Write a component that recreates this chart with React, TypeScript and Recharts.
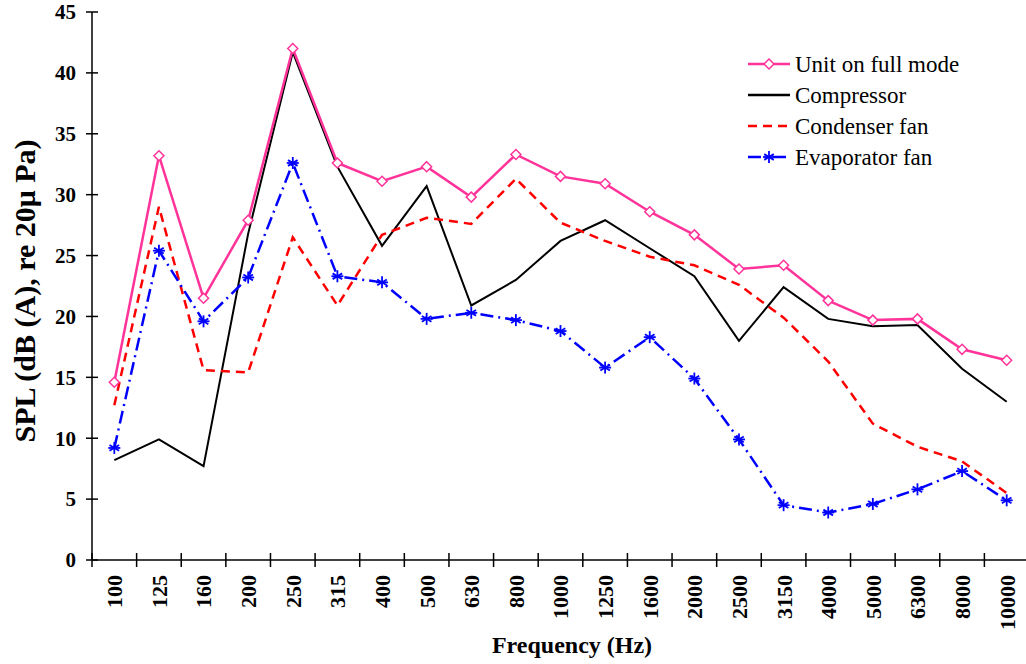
import React from 'react';
import { LineChart, Line, XAxis, YAxis, Legend, Label } from 'recharts';

const FREQUENCIES = ['100', '125', '160', '200', '250', '315', '400', '500', '630', '800', '1000', '1250', '1600', '2000', '2500', '3150', '4000', '5000', '6300', '8000', '10000'];
const UNIT_FULL = [14.6, 33.2, 21.5, 27.9, 42.0, 32.6, 31.1, 32.3, 29.8, 33.3, 31.5, 30.9, 28.6, 26.7, 23.9, 24.2, 21.3, 19.7, 19.8, 17.3, 16.4];
const COMPRESSOR = [8.2, 9.9, 7.7, 26.8, 41.7, 32.3, 25.8, 30.7, 20.9, 23.0, 26.2, 27.9, 25.6, 23.3, 18.0, 22.4, 19.8, 19.2, 19.3, 15.7, 13.0];
const CONDENSER_FAN = [12.7, 29.0, 15.6, 15.4, 26.5, 20.9, 26.7, 28.1, 27.6, 31.3, 27.7, 26.2, 24.9, 24.2, 22.6, 19.9, 16.3, 11.2, 9.3, 8.1, 5.5];
const EVAPORATOR_FAN = [9.2, 25.4, 19.6, 23.2, 32.6, 23.3, 22.8, 19.8, 20.3, 19.7, 18.8, 15.8, 18.3, 14.9, 9.9, 4.5, 3.9, 4.6, 5.8, 7.3, 4.9];
const Y_TICKS = [0, 5, 10, 15, 20, 25, 30, 35, 40, 45];

const data = FREQUENCIES.map((f, i) => ({
  freq: f,
  unit: UNIT_FULL[i],
  comp: COMPRESSOR[i],
  cond: CONDENSER_FAN[i],
  evap: EVAPORATOR_FAN[i],
}));

const FONT = '"Liberation Serif", "Times New Roman", serif';
const PINK = '#FF3399';
const RED = '#FF0000';
const BLUE = '#0000FF';

const W = 1030;
const H = 664;
const LEFT = 92;
const BOTTOM = 104;
const RIGHT = 1;
const BAND = (W - LEFT - RIGHT) / FREQUENCIES.length;

const DASH_RED = '9 6';
const DASH_BLUE = '13 5 2 5';

const Diamond = (props: any) => {
  const { cx, cy } = props;
  if (cx == null || cy == null) return null;
  const r = 5;
  return (
    <path
      d={`M${cx},${cy - r}L${cx + r},${cy}L${cx},${cy + r}L${cx - r},${cy}Z`}
      fill="#fff"
      stroke={PINK}
      strokeWidth={1.5}
    />
  );
};

const Star = (props: any) => {
  const { cx, cy } = props;
  if (cx == null || cy == null) return null;
  const r = 6;
  const d = r * 0.8;
  return (
    <g stroke={BLUE} strokeWidth={1.8}>
      <line x1={cx} y1={cy - r} x2={cx} y2={cy + r} />
      <line x1={cx - d} y1={cy - d * 0.6} x2={cx + d} y2={cy + d * 0.6} />
      <line x1={cx - d} y1={cy + d * 0.6} x2={cx + d} y2={cy - d * 0.6} />
      <line x1={cx - r} y1={cy} x2={cx + r} y2={cy} />
    </g>
  );
};

const XTick = (props: any) => {
  const { x, y, payload } = props;
  const bx = x - BAND / 2;
  return (
    <g>
      <line x1={bx} y1={y - 7} x2={bx} y2={y + 7} stroke="#000" strokeWidth={1.5} />
      <text
        x={x}
        y={y + 15}
        transform={`rotate(-90, ${x}, ${y + 15})`}
        dy="0.36em"
        textAnchor="end"
        fontFamily={FONT}
        fontWeight="bold"
        fontSize={22}
        fill="#000"
      >
        {payload.value}
      </text>
    </g>
  );
};

const YTick = (props: any) => {
  const { x, y, payload } = props;
  return (
    <g>
      <line x1={x - 6} y1={y} x2={x + 6} y2={y} stroke="#000" strokeWidth={1.5} />
      <text
        x={x - 16}
        y={y}
        dy="0.35em"
        textAnchor="end"
        fontFamily={FONT}
        fontWeight="bold"
        fontSize={21}
        fill="#000"
      >
        {payload.value}
      </text>
    </g>
  );
};

const LEGEND_ROWS = [
  { name: 'Unit on full mode', color: PINK, dash: undefined, mark: 'diamond' },
  { name: 'Compressor', color: '#000', dash: undefined, mark: '' },
  { name: 'Condenser fan', color: RED, dash: DASH_RED, mark: '' },
  { name: 'Evaporator fan', color: BLUE, dash: DASH_BLUE, mark: 'star' },
];

const LegendBox = () => (
  <svg width={260} height={140} style={{ display: 'block', overflow: 'visible' }}>
    {LEGEND_ROWS.map((row, i) => {
      const y = 16 + i * 31;
      return (
        <g key={row.name}>
          <line x1={8} y1={y} x2={50} y2={y} stroke={row.color} strokeWidth={2.5} strokeDasharray={row.dash} />
          {row.mark === 'diamond' && <Diamond cx={29} cy={y} />}
          {row.mark === 'star' && <Star cx={29} cy={y} />}
          <text x={55} y={y} dy="0.35em" fontFamily={FONT} fontSize={23} fill="#000">
            {row.name}
          </text>
        </g>
      );
    })}
  </svg>
);

export default function App() {
  return (
    <div style={{ position: 'absolute', left: 0, top: 0, width: 1026, height: 664, overflow: 'hidden', background: '#fff' }}>
      <LineChart width={W} height={H} data={data} margin={{ top: 12, right: RIGHT, left: 0, bottom: 0 }}>
        <XAxis
          dataKey="freq"
          scale="band"
          height={BOTTOM}
          tickSize={0}
          tickMargin={0}
          tickLine={false}
          interval={0}
          tick={<XTick />}
          axisLine={{ stroke: '#000', strokeWidth: 1.5 }}
        >
          <Label
            content={() => (
              <text x={572} y={653} textAnchor="middle" fontFamily={FONT} fontWeight="bold" fontSize={24} fill="#000">
                Frequency (Hz)
              </text>
            )}
          />
        </XAxis>
        <YAxis
          width={LEFT}
          domain={[0, 45]}
          ticks={Y_TICKS}
          tickSize={0}
          tickMargin={0}
          tickLine={false}
          interval={0}
          tick={<YTick />}
          axisLine={{ stroke: '#000', strokeWidth: 1.5 }}
        >
          <Label
            content={() => (
              <text
                x={35}
                y={291}
                transform="rotate(-90, 35, 291)"
                textAnchor="middle"
                fontFamily={FONT}
                fontWeight="bold"
                fontSize={30}
                fill="#000"
              >
                SPL (dB (A), re 20μ Pa)
              </text>
            )}
          />
        </YAxis>
        <Legend
          layout="vertical"
          align="center"
          verticalAlign="middle"
          wrapperStyle={{ left: 740, top: 48, width: 260, height: 140 }}
          content={() => <LegendBox />}
        />
        <Line
          dataKey="comp"
          name="Compressor"
          stroke="#000"
          strokeWidth={2}
          dot={false}
          isAnimationActive={false}
        />
        <Line
          dataKey="cond"
          name="Condenser fan"
          stroke={RED}
          strokeWidth={2.5}
          strokeDasharray={DASH_RED}
          dot={false}
          isAnimationActive={false}
        />
        <Line
          dataKey="evap"
          name="Evaporator fan"
          stroke={BLUE}
          strokeWidth={2.5}
          strokeDasharray={DASH_BLUE}
          dot={<Star />}
          isAnimationActive={false}
        />
        <Line
          dataKey="unit"
          name="Unit on full mode"
          stroke={PINK}
          strokeWidth={2.5}
          dot={<Diamond />}
          isAnimationActive={false}
        />
      </LineChart>
    </div>
  );
}
